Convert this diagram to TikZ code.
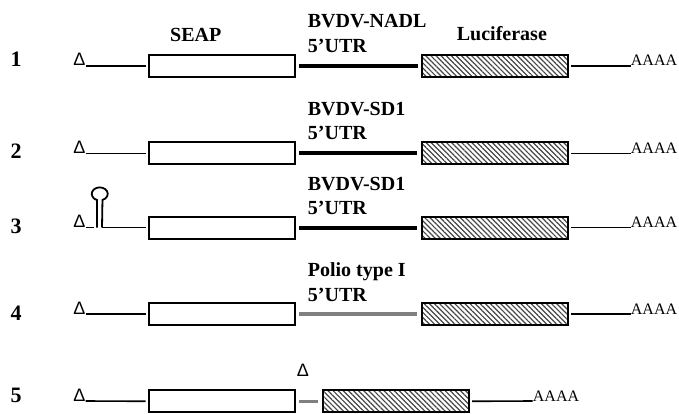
\documentclass[tikz,border=0pt]{standalone}
\usepackage{fontspec}
\setmainfont{Liberation Serif}
\newfontfamily\deltafont{Liberation Sans}
\usetikzlibrary{patterns.meta}
\definecolor{utrgray}{RGB}{128,128,128}
\definecolor{hatchgray}{RGB}{70,70,70}
\begin{document}
\begin{tikzpicture}[x=1pt,y=-1pt,
  num/.style={font=\fontsize{22}{26}\selectfont\bfseries, inner sep=0pt, anchor=base},
  lab/.style={font=\fontsize{20}{24}\selectfont\bfseries, inner sep=0pt, anchor=base west},
  tail/.style={font=\fontsize{16}{19}\selectfont, inner sep=0pt, anchor=base west},
  capmark/.style={font=\deltafont\fontsize{18}{20}\selectfont, inner sep=0pt, anchor=base},
  seapbox/.style={draw, line width=2pt, minimum width=146pt, minimum height=22pt, inner sep=0pt},
  lucbox/.style={seapbox, pattern={Lines[angle=-45,distance=3.6pt,line width=1.2pt]}, pattern color=hatchgray},
  thinline/.style={line width=1.6pt},
  utrblack/.style={line width=4pt, shorten <=3pt, shorten >=3.5pt},
  utrgrey/.style={line width=4pt, draw=utrgray, shorten <=3pt, shorten >=3.5pt},
  stemloop/.style={line width=1.8pt},
]
\useasboundingbox (0,0) rectangle (679,414);

% numbers
\node[num] (n1) at (16,67) {1};
\node[num] (n2) at (16,158) {2};
\node[num] (n3) at (16,233) {3};
\node[num] (n4) at (16,320) {4};
\node[num] (n5) at (16,402) {5};

% column headings
\node[lab] (seaplab) at (170,41.7) {SEAP};
\node[lab] (luclab) at (456.7,40.7) {Luciferase};

% ---------- row 1
\node[capmark] (d1) at (79.3,66) {Δ};
\node[seapbox] (s1) at (222,66) {};
\node[lucbox] (l1) at (494.9,66) {};
\node[tail] (a1) at (630.7,66) {AAAA};
\draw[thinline, shorten >=2.5pt] (d1.base east) -- (s1.west);
\draw[utrblack] (s1.east) -- (l1.west);
\draw[thinline, shorten <=2.5pt] (l1.east) -- (a1.base west);
\node[lab] (t1a) at (307.7,28) {BVDV-NADL};
\node[lab] (t1b) at (307.7,52.5) {5’UTR};

% ---------- row 2
\node[capmark] (d2) at (79.3,153.5) {Δ};
\node[seapbox] (s2) at (222,153.5) {};
\node[lucbox] (l2) at (494.9,153.5) {};
\node[tail] (a2) at (630.7,153.5) {AAAA};
\draw[thinline, shorten >=2.5pt] (d2.base east) -- (s2.west);
\draw[utrblack] (s2.east) -- (l2.west);
\draw[thinline, shorten <=2.5pt] (l2.east) -- (a2.base west);
\node[lab] (t2a) at (307.7,115.5) {BVDV-SD1};
\node[lab] (t2b) at (307.7,140) {5’UTR};

% ---------- row 3
\node[capmark] (d3) at (79.3,227.5) {Δ};
\node[seapbox] (s3) at (222,227.5) {};
\node[lucbox] (l3) at (494.9,227.5) {};
\node[tail] (a3) at (630.7,227.5) {AAAA};
\coordinate (cut3) at (94,227.5);
\coordinate (stl) at (97,227.5);
\coordinate (str) at (102,227.5);
\coordinate (stlt) at (97,200);
\draw[thinline] (d3.base east) -- (cut3);
\draw[stemloop] (stl) -- (stlt) arc[start angle=110, end angle=430, x radius=8, y radius=6.5] -- (str);
\draw[thinline, shorten >=2.5pt] (str) -- (s3.west);
\draw[utrblack] (s3.east) -- (l3.west);
\draw[thinline, shorten <=2.5pt] (l3.east) -- (a3.base west);
\node[lab] (t3a) at (307.7,190) {BVDV-SD1};
\node[lab] (t3b) at (307.7,214) {5’UTR};

% ---------- row 4
\node[capmark] (d4) at (79.3,314) {Δ};
\node[seapbox] (s4) at (222,314) {};
\node[lucbox] (l4) at (494.9,314) {};
\node[tail] (a4) at (630.7,314) {AAAA};
\draw[thinline, shorten >=2.5pt] (d4.base east) -- (s4.west);
\draw[utrgrey] (s4.east) -- (l4.west);
\draw[thinline, shorten <=2.5pt] (l4.east) -- (a4.base west);
\node[lab] (t4a) at (307.7,276.5) {Polio type I};
\node[lab] (t4b) at (307.7,301) {5’UTR};

% ---------- row 5
\node[capmark] (d5) at (79.3,401) {Δ};
\node[capmark] (d5b) at (303,376.7) {Δ};
\node[seapbox] (s5) at (222,401.3) {};
\node[lucbox] (l5) at (395.5,401.3) {};
\node[tail] (a5) at (532.7,401) {AAAA};
\draw[thinline, shorten >=2.5pt] (d5.base east) -- (s5.west);
\draw[line width=3.5pt, draw=utrgray, shorten <=3pt, shorten >=3.5pt] (s5.east) -- (l5.west);
\draw[thinline, shorten <=2.5pt] (l5.east) -- (a5.base west);
\end{tikzpicture}
\end{document}
